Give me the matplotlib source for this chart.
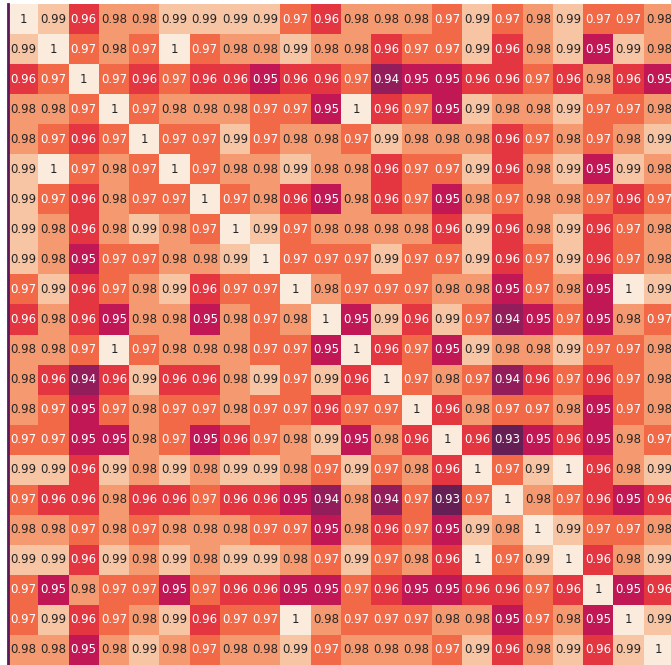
import numpy as np
import matplotlib
matplotlib.use("Agg")
import matplotlib.pyplot as plt
import seaborn as sns

rows = [
    [1, 0.99, 0.96, 0.98, 0.98, 0.99, 0.99, 0.99, 0.99, 0.97, 0.96, 0.98, 0.98, 0.98, 0.97, 0.99, 0.97, 0.98, 0.99, 0.97, 0.97, 0.98],
    [0.99, 1, 0.97, 0.98, 0.97, 1, 0.97, 0.98, 0.98, 0.99, 0.98, 0.98, 0.96, 0.97, 0.97, 0.99, 0.96, 0.98, 0.99, 0.95, 0.99, 0.98],
    [0.96, 0.97, 1, 0.97, 0.96, 0.97, 0.96, 0.96, 0.95, 0.96, 0.96, 0.97, 0.94, 0.95, 0.95, 0.96, 0.96, 0.97, 0.96, 0.98, 0.96, 0.95],
    [0.98, 0.98, 0.97, 1, 0.97, 0.98, 0.98, 0.98, 0.97, 0.97, 0.95, 1, 0.96, 0.97, 0.95, 0.99, 0.98, 0.98, 0.99, 0.97, 0.97, 0.98],
    [0.98, 0.97, 0.96, 0.97, 1, 0.97, 0.97, 0.99, 0.97, 0.98, 0.98, 0.97, 0.99, 0.98, 0.98, 0.98, 0.96, 0.97, 0.98, 0.97, 0.98, 0.99],
    [0.99, 1, 0.97, 0.98, 0.97, 1, 0.97, 0.98, 0.98, 0.99, 0.98, 0.98, 0.96, 0.97, 0.97, 0.99, 0.96, 0.98, 0.99, 0.95, 0.99, 0.98],
    [0.99, 0.97, 0.96, 0.98, 0.97, 0.97, 1, 0.97, 0.98, 0.96, 0.95, 0.98, 0.96, 0.97, 0.95, 0.98, 0.97, 0.98, 0.98, 0.97, 0.96, 0.97],
    [0.99, 0.98, 0.96, 0.98, 0.99, 0.98, 0.97, 1, 0.99, 0.97, 0.98, 0.98, 0.98, 0.98, 0.96, 0.99, 0.96, 0.98, 0.99, 0.96, 0.97, 0.98],
    [0.99, 0.98, 0.95, 0.97, 0.97, 0.98, 0.98, 0.99, 1, 0.97, 0.97, 0.97, 0.99, 0.97, 0.97, 0.99, 0.96, 0.97, 0.99, 0.96, 0.97, 0.98],
    [0.97, 0.99, 0.96, 0.97, 0.98, 0.99, 0.96, 0.97, 0.97, 1, 0.98, 0.97, 0.97, 0.97, 0.98, 0.98, 0.95, 0.97, 0.98, 0.95, 1, 0.99],
    [0.96, 0.98, 0.96, 0.95, 0.98, 0.98, 0.95, 0.98, 0.97, 0.98, 1, 0.95, 0.99, 0.96, 0.99, 0.97, 0.94, 0.95, 0.97, 0.95, 0.98, 0.97],
    [0.98, 0.98, 0.97, 1, 0.97, 0.98, 0.98, 0.98, 0.97, 0.97, 0.95, 1, 0.96, 0.97, 0.95, 0.99, 0.98, 0.98, 0.99, 0.97, 0.97, 0.98],
    [0.98, 0.96, 0.94, 0.96, 0.99, 0.96, 0.96, 0.98, 0.99, 0.97, 0.99, 0.96, 1, 0.97, 0.98, 0.97, 0.94, 0.96, 0.97, 0.96, 0.97, 0.98],
    [0.98, 0.97, 0.95, 0.97, 0.98, 0.97, 0.97, 0.98, 0.97, 0.97, 0.96, 0.97, 0.97, 1, 0.96, 0.98, 0.97, 0.97, 0.98, 0.95, 0.97, 0.98],
    [0.97, 0.97, 0.95, 0.95, 0.98, 0.97, 0.95, 0.96, 0.97, 0.98, 0.99, 0.95, 0.98, 0.96, 1, 0.96, 0.93, 0.95, 0.96, 0.95, 0.98, 0.97],
    [0.99, 0.99, 0.96, 0.99, 0.98, 0.99, 0.98, 0.99, 0.99, 0.98, 0.97, 0.99, 0.97, 0.98, 0.96, 1, 0.97, 0.99, 1, 0.96, 0.98, 0.99],
    [0.97, 0.96, 0.96, 0.98, 0.96, 0.96, 0.97, 0.96, 0.96, 0.95, 0.94, 0.98, 0.94, 0.97, 0.93, 0.97, 1, 0.98, 0.97, 0.96, 0.95, 0.96],
    [0.98, 0.98, 0.97, 0.98, 0.97, 0.98, 0.98, 0.98, 0.97, 0.97, 0.95, 0.98, 0.96, 0.97, 0.95, 0.99, 0.98, 1, 0.99, 0.97, 0.97, 0.98],
    [0.99, 0.99, 0.96, 0.99, 0.98, 0.99, 0.98, 0.99, 0.99, 0.98, 0.97, 0.99, 0.97, 0.98, 0.96, 1, 0.97, 0.99, 1, 0.96, 0.98, 0.99],
    [0.97, 0.95, 0.98, 0.97, 0.97, 0.95, 0.97, 0.96, 0.96, 0.95, 0.95, 0.97, 0.96, 0.95, 0.95, 0.96, 0.96, 0.97, 0.96, 1, 0.95, 0.96],
    [0.97, 0.99, 0.96, 0.97, 0.98, 0.99, 0.96, 0.97, 0.97, 1, 0.98, 0.97, 0.97, 0.97, 0.98, 0.98, 0.95, 0.97, 0.98, 0.95, 1, 0.99],
    [0.98, 0.98, 0.95, 0.98, 0.99, 0.98, 0.97, 0.98, 0.98, 0.99, 0.97, 0.98, 0.98, 0.98, 0.97, 0.99, 0.96, 0.98, 0.99, 0.96, 0.99, 1],
]

sim = np.array(rows)

W, H = 671, 665
fig = plt.figure(figsize=(W / 100, H / 100), dpi=100)
ax = fig.add_axes([8 / W, 0 / H, 666 / W, 661 / H])

sns.heatmap(sim, ax=ax, cmap="rocket", vmin=0.905, vmax=1.0,
            annot=True, fmt=".2g", annot_kws={"fontsize": 8.5},
            cbar=False, xticklabels=False, yticklabels=False)

# in the original the 0.97 cells and below carry white labels
for t in ax.texts:
    if float(t.get_text()) <= 0.975:
        t.set_color("white")
    else:
        t.set_color("#262626")

ax.spines["left"].set_visible(True)
ax.spines["left"].set_color("#5b1a5a")
ax.spines["left"].set_linewidth(2)

fig.savefig("out.png", dpi=100)
